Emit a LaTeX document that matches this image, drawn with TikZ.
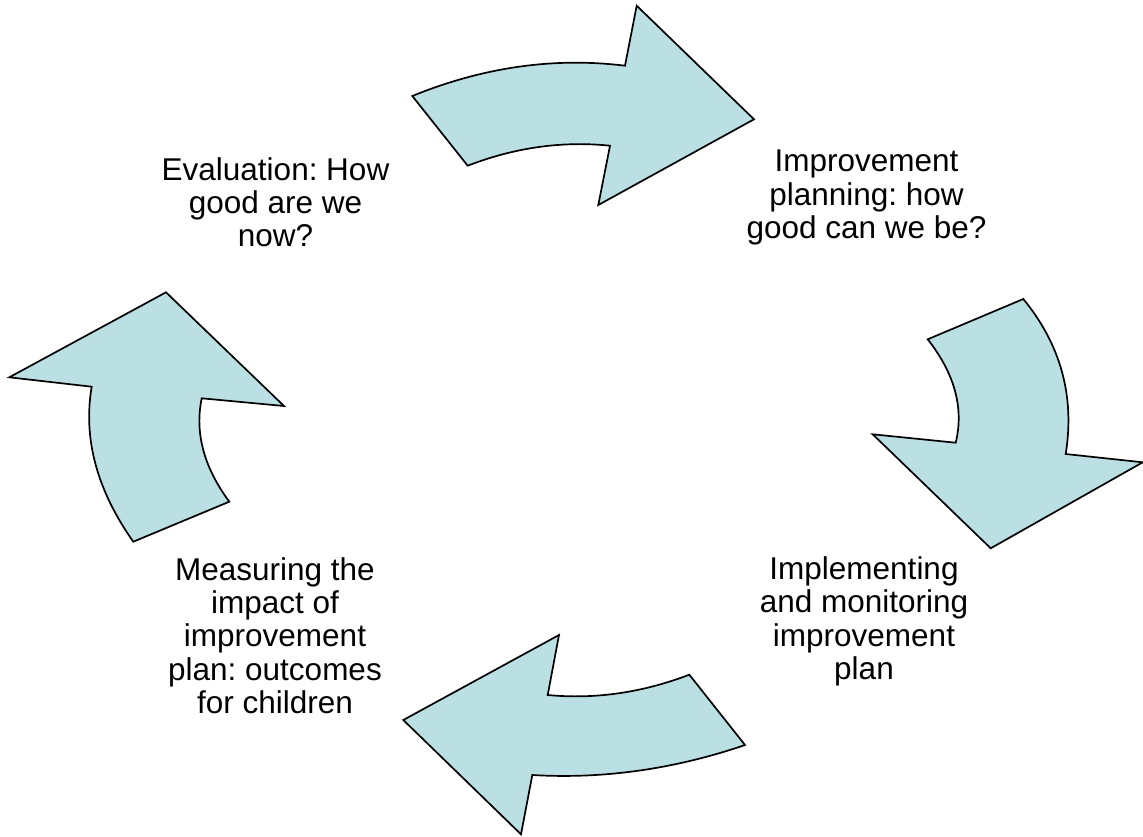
\documentclass[tikz,border=0pt]{standalone}
\usepackage{fontspec}
\setmainfont{Liberation Sans}
\frenchspacing
\definecolor{arrowfill}{RGB}{186,224,228}
\tikzset{
  bigarrow/.style={draw=black, fill=arrowfill, line width=1.7pt, line join=miter},
  label/.style={align=center, inner sep=0pt, anchor=base, font=\fontsize{31.5}{33.3}\selectfont\frenchspacing}
}
\begin{document}
\begin{tikzpicture}[x=1pt,y=-1pt]
\useasboundingbox (0,0) rectangle (1143,836);
% top arrow (pointing right)
\draw[bigarrow] (412.3,96) -- (467.7,165.7)
  .. controls (515.1,147.4) and (562.5,140.8) .. (610,145.7)
  -- (598.3,205) -- (754,119.3) -- (636.7,5.7) -- (625,65.7)
  .. controls (554.1,57.0) and (483.2,67.1) .. cycle;
% right arrow (pointing down)
\draw[bigarrow] (927.7,339.3) -- (1023.3,299)
  .. controls (1060.8,344.7) and (1074.9,396.3) .. (1065.7,454)
  -- (1142.7,462.3) -- (990.7,548.3) -- (872.7,434.3) -- (955.7,442.7)
  .. controls (964.1,408.2) and (954.8,373.8) .. cycle;
% bottom arrow (pointing left)
\draw[bigarrow] (689.3,674.7) -- (745,745)
  .. controls (674.1,769.2) and (603.2,779.2) .. (532.3,775)
  -- (521,834.3) -- (403.3,720) -- (559,635) -- (547.7,695)
  .. controls (594.9,699.5) and (642.1,692.7) .. cycle;
% left arrow (pointing up)
\draw[bigarrow] (133.3,541.7) -- (229.3,501.7)
  .. controls (203.8,467.2) and (194.6,432.8) .. (201.7,398.3)
  -- (284,406) -- (166,292.3) -- (9.3,377.3) -- (91.7,386.7)
  .. controls (82.9,438.4) and (96.8,490.0) .. cycle;
% texts (base anchor = baseline of last line)
\node[label] (eval) at (275.5,246.7) {Evaluation: How\\good are we\\now?};
\node[label] (plan) at (866.5,238.3) {Improvement\\planning: how\\good can we be?};
\node[label] (impl) at (864,679.3) {Implementing\\and monitoring\\improvement\\plan};
\node[label] (meas) at (275,713.3) {Measuring the\\impact of\\improvement\\plan: outcomes\\for children};
\end{tikzpicture}
\end{document}
